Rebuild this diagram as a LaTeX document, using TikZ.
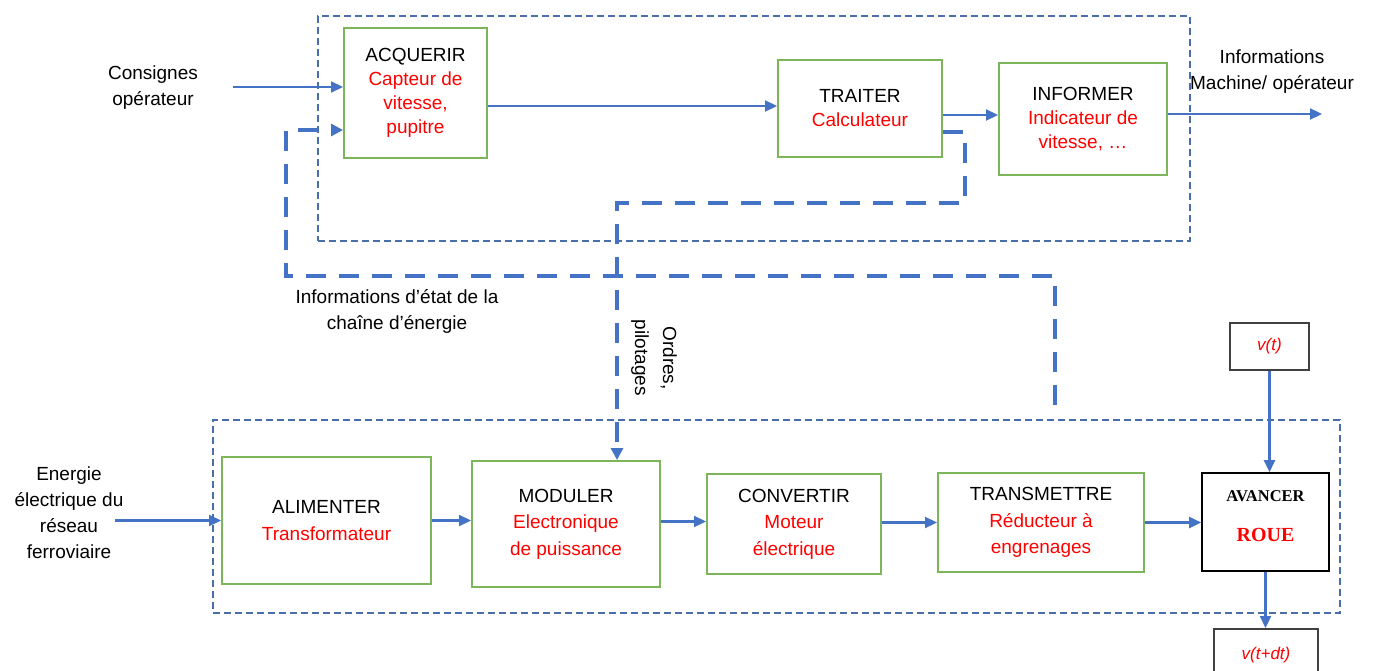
\documentclass[tikz,border=0pt]{standalone}
\usepackage{fontspec}
\setmainfont{Liberation Sans}
\newfontfamily\serifb{Liberation Serif}
\usetikzlibrary{arrows.meta}
\definecolor{boxgreen}{HTML}{7DB55A}
\definecolor{arrowblue}{HTML}{4472C4}
\definecolor{framblue}{HTML}{4A6EA9}
\definecolor{txtred}{HTML}{FF0000}
\tikzset{
  gbox/.style={draw=boxgreen, line width=2pt, inner sep=0pt, align=center, font=\fontsize{19}{24}\selectfont},
  gboxb/.style={gbox, font=\fontsize{19}{26.5}\selectfont},
  kbox/.style={draw=black, line width=1.6pt, inner sep=0pt, align=center, font=\serifb\bfseries\fontsize{16.5}{20}\selectfont},
  vbox/.style={draw=black!75, line width=2pt, inner sep=0pt, align=center, font=\fontsize{17}{20}\selectfont\itshape\color{txtred}},
  frame/.style={draw=framblue, line width=2pt, dash pattern=on 7pt off 4pt, inner sep=0pt},
  lbl/.style={align=center, font=\fontsize{19}{26}\selectfont, inner sep=0pt},
  arr/.style={draw=arrowblue, line width=2.2pt, -{Triangle[length=12pt,width=11pt]}},
  thickdash/.style={draw=arrowblue, line width=4pt, dash pattern=on 20pt off 13pt, -{Triangle[length=12pt,width=12pt]}},
}
\newcommand{\rt}[1]{\textcolor{txtred}{#1}}
\begin{document}
\begin{tikzpicture}[x=1pt,y=-1pt]
\useasboundingbox (0,0) rectangle (1378,671);
\fill[white] (0,0) rectangle (1378,671);

% frames
\node[frame, minimum width=872pt, minimum height=225pt] (topframe) at (754,128.5) {};
\node[frame, minimum width=1127pt, minimum height=193pt] (botframe) at (776.5,516.5) {};

% top chain
\node[gbox, minimum width=143pt, minimum height=130pt] (acq) at (415.5,93) {ACQUERIR\\\rt{Capteur de}\\\rt{vitesse,}\\\rt{pupitre}};
\node[gbox, minimum width=164pt, minimum height=97pt] (trait) at (860,108.5) {TRAITER\\\rt{Calculateur}};
\node[gbox, minimum width=168pt, minimum height=112pt] (inform) at (1083,119.5) {INFORMER\\\rt{Indicateur de}\\\rt{vitesse, …}};

\node[lbl] (cons) at (153,88) {Consignes\\opérateur};
\node[lbl] (infout) at (1272,71.5) {Informations\\Machine/ opérateur};
\node[lbl] (etat) at (397,311.5) {Informations d’état de la\\chaîne d’énergie};
\node[lbl, rotate=-90, font=\fontsize{19}{28}\selectfont] (ordres) at (654,358) {Ordres,\\pilotages};
\node[lbl] (energie) at (69,513) {Energie\\électrique du\\réseau\\ferroviaire};

% bottom chain
\node[gboxb, minimum width=209pt, minimum height=127pt] (alim) at (326.5,520.5) {ALIMENTER\\\rt{Transformateur}};
\node[gboxb, minimum width=188pt, minimum height=126pt] (modu) at (566,524) {MODULER\\\rt{Electronique}\\\rt{de puissance}};
\node[gboxb, minimum width=174pt, minimum height=100pt] (conv) at (794,524) {CONVERTIR\\\rt{Moteur}\\\rt{électrique}};
\node[gboxb, minimum width=206pt, minimum height=99pt] (trans) at (1041,522.5) {TRANSMETTRE\\\rt{Réducteur à}\\\rt{engrenages}};
\node[kbox, minimum width=127pt, minimum height=98pt, text depth=11pt] (av) at (1265.5,522) {AVANCER\\[20pt]{\fontsize{20}{20}\selectfont\color{txtred}ROUE}};
\node[vbox, minimum width=79pt, minimum height=47pt] (vt) at (1269.5,346.5) {v(t)};
\node[vbox, minimum width=104pt, minimum height=52pt] (vtdt) at (1266,655) {v(t+dt)};

% coordinates
\coordinate (consA) at (233,87);
\coordinate (outI) at (1322,114);
\coordinate (enA) at (115,520.5);
\coordinate (e1) at (1055,405);
\coordinate (e2) at (1055,276);
\coordinate (e3) at (286,276);
\coordinate (e4) at (286,130);
\coordinate (o1) at (965,132);
\coordinate (o2) at (965,203);
\coordinate (o3) at (617,203);

% solid arrows
\draw[arr] (consA) -- (consA -| acq.west);
\draw[arr] ([yshift=-13pt]acq.east) -- ([yshift=-13pt]acq.east -| trait.west);
\draw[arr] ([yshift=-6.5pt]trait.east) -- ([yshift=-6.5pt]trait.east -| inform.west);
\draw[arr] (inform.east |- outI) -- (outI);
\draw[arr] (enA) -- (alim.west);
\draw[arr] (alim.east) -- (alim.east -| modu.west);
\draw[arr] ([yshift=2.5pt]modu.east) -- ([yshift=2.5pt]modu.east -| conv.west);
\draw[arr] (trans.west -| conv.east) -- (trans.west);
\draw[arr] (trans.east) -- (trans.east -| av.west);
\draw[arr] (vt.south) -- (vt.south |- av.north);
\draw[arr] (av.south) -- (av.south |- vtdt.north);

% thick dashed
\draw[thickdash] (e1) -- (e2) -- (e3) -- (e4) -- (e4 -| acq.west);
\draw[thickdash] (trait.east |- o1) -- (o1) -- (o2) -- (o3) -- (o3 |- modu.north);
\end{tikzpicture}
\end{document}
